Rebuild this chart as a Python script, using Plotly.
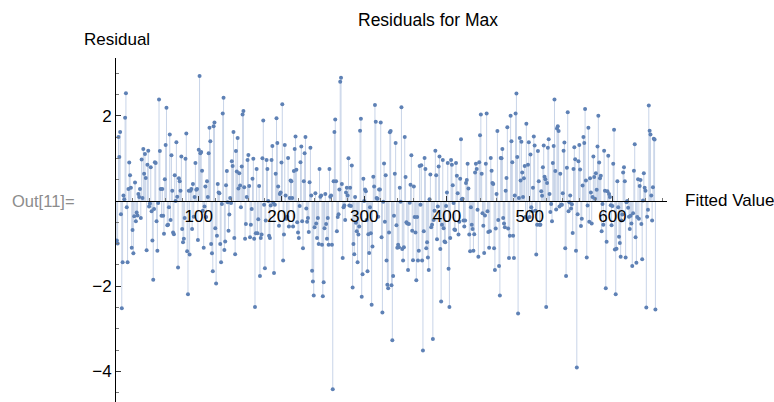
import plotly.graph_objects as go
import numpy as np

# Residual values (left to right)
seg01 = [-0.93, -1.0, 1.5, 1.03, 1.62, -0.31, -2.52, -1.44, 0.13, 0.04, 1.95, 2.53, -0.15, -1.44, 0.28, 0.9,
         0.6, 0.31, -1.1, -0.68, -1.23, -0.36, 0.43, -0.48, -0.27, -0.34, 0.16, 0.09, 0.28, -0.4, 0.97, 0.07,
         1.22, 0.64, 1.1, 0.54, -1.16, 0.85, 1.18, -0.13, -0.06, 0.79, -0.24, -0.93, -1.85, -0.19, 0.91, 0.89,
         -0.48, -1.17, -0.05, 2.38, 1.17, 0.28, -0.35]
seg02 = [0.28, -0.35, -0.77, 0.51, 1.31, 2.19, -0.57, -0.56, -0.15, 1.56, -0.45, 1.07, 0.24, -0.74, -0.78,
         0.6, 0.0, 1.38, 0.1, -1.56, 0.53, 0.46, 0.24, 1.04, -0.66, -0.97, -0.89, -0.4, 0.99, 1.58, -1.18,
         -2.19, 0.24, -1.26, 0.24, 0.28, -0.66, 0.4, -0.37, 0.09, 0.89, 0.26, 0.28, -0.92, 1.2, 2.93, 1.12,
         1.15, 0.71, -0.23, -1.1, -0.13, 0.34, -0.38, 0.46, 0.09, 1.12, 1.72]
seg03 = [1.4, -1.01, -1.23, -1.65, 1.75, 1.84, -0.64, -1.94, -0.82, 0.4, 0.2, 0.18, -1.01, -1.44, -0.07,
         2.05, 2.42, -1.15, -0.95, 0.37, 0.7, -0.03, -0.7, -0.32, 0.07, -0.05, 0.93, 0.82, 1.62, -0.87, -1.25,
         1.17, 0.69, 1.48, 0.29, 0.65, 0.36, -0.15, 0.81, 2.03, 2.11, 0.32, -0.89, -0.54, 0.09, 0.96, 1.08,
         0.35, -0.85, -0.56, -0.19, 0.52, 0.99, -0.89, -2.49, -0.76]
seg04 = [0.75, -0.76, -0.43, 0.35, -1.76, -0.87, -0.79, 1.0, 1.89, -0.09, -1.58, -0.46, 0.96, 0.75, 0.0,
         -0.82, -0.87, -0.11, 0.96, 1.29, -0.04, -1.69, -0.09, 0.64, 1.94, 1.36, 0.34, -0.58, 0.16, 0.2, 0.9,
         2.27, -1.4, -0.79, 1.31, 0.13, -0.42, -0.37, 1.01, -0.6, 0.07, 0.48, 0.46, 0.07, -0.6, 0.7, 1.22,
         1.51, 0.73, -0.5, -0.74, -0.87, -0.12, 0.91, 1.28, -0.48]
seg05 = [-1.11, 0.46, 1.12, 1.5, -0.18, -0.49, -0.4, -0.73, 0.44, 1.25, 0.13, -1.64, -1.89, -2.22, -0.62,
         0.18, -0.53, -0.87, -0.4, -1.01, 0.75, 0.1, 0.13, -1.03, -2.24, -1.91, -0.64, 0.16, -0.54, -0.89,
         -0.4, -1.03, 0.75, 0.1, 0.13, -1.03, -4.42, 0.46, 1.62, 1.91, 0.46, -0.71, -0.38, -0.31, 0.27, 2.8,
         2.89, 0.4, -1.34, -0.15, -0.11, -0.45, 0.2, 0.31, 0.13, 1.0, -0.11]
seg06 = [0.31, -0.12, 0.83, -2.03, -1.01, -1.25, 0.09, -0.51, -0.71, -1.44, -0.79, -0.6, 1.65, 1.93, -2.25,
         -1.72, 0.52, 0.0, 0.27, 0.23, -0.45, -1.65, -0.78, -1.22, -0.15, -0.76, -2.44, -1.07, 0.57, 0.34,
         2.25, 1.86, 0.07, 0.05, -0.37, 0.27, 0.27, 1.84, -0.85, -2.62, -0.02, 0.88, -0.49, 0.6, -1.4, -1.97,
         -2.05, -0.74, 1.61, 1.64, -1.98, -3.27, -1.76, -0.35, 0.64, 1.36, -0.57, -1.1]
seg07 = [-1.03, -1.09, 0.31, -0.02, 2.2, -1.13, -1.4, -1.09, 1.5, 0.56, -0.5, -0.53, -1.62, -0.54, -0.04,
         0.38, 1.07, -0.7, -1.39, 0.34, -0.38, -0.74, -1.86, -0.38, -1.4, -1.17, 0.82, -0.09, 0.84, -1.4,
         -3.51, -0.71, 1.01, 0.75, -1.11, -0.97, -1.33, -1.62, 0.04, 0.62, -0.62, -0.56, -3.24, -0.45, -0.23,
         1.18, 0.6, -0.9, -0.13, 0.81, 1.04, -1.13, -2.36, -0.56, 0.96]
seg08 = [-0.64, -0.95, -0.97, -0.12, 0.2, 0.89, -1.59, -2.49, -0.87, 0.96, 0.85, 0.37, -0.05, -0.67, -0.68,
         0.89, 0.59, 0.18, -0.79, -0.49, 0.52, 1.45, 0.04, 0.05, -0.46, -0.6, -0.46, 0.42, 0.49, 0.87, 0.29,
         -0.79, -1.18, -0.15, -0.56, -0.66, -1.17, -0.78, 0.67, 0.87, 0.75, -0.21, -1.31, 0.91, 1.54, 2.03,
         0.64, -0.29, -0.58, -1.22, -0.34, 0.87, 2.05, -0.24, -0.73, -1.1]
seg09 = [-0.71, 1.01, 0.71, 0.42, 0.4, -1.11, -1.62, -0.65, 0.16, 1.64, -0.45, -1.53, -2.22, 1.01, 1.0, 1.22,
         -0.4, -0.53, -0.62, 0.24, 0.54, 1.73, -0.65, -1.34, -0.82, 2.0, 1.4, 0.91, -0.82, -1.34, 0.13, 2.05,
         2.52, 1.03, -2.64, 0.07, 1.48, 0.48, 1.39, 0.67, 0.09, 0.53, 0.82, -0.38, 1.81, -0.42, 0.85, 1.38,
         -0.38, 1.09, -0.15, -0.24, 0.31, 1.51, 1.3, -0.23]
seg10 = [-1.26, -0.56, 1.17, 0.46, -0.56, -0.56, 0.23, 0.12, 0.79, 1.3, 0.57, 0.51, -2.49, 0.42, 1.25, 1.45,
         0.16, -0.26, -0.07, -0.48, 0.89, 1.29, 2.38, 0.7, -0.2, 1.7, 1.75, 1.64, -0.13, 0.64, -0.09, -0.09,
         0.18, 1.18, 1.37, -1.11, -1.76, 0.78, 2.08, -0.24, -0.03, 0.13, -0.18, -0.08, -0.75, 0.75, 1.26,
         0.98, -1.17, -3.91, -0.31, 0.93, 1.31, 0.74, -0.59, -0.42, 0.36]
seg11 = [1.5, 1.36, 2.16, 0.48, -1.33, -0.11, 1.72, -0.49, 0.53, 0.2, -0.53, 0.09, 1.04, 0.56, 0.05, 0.65,
         0.26, 1.28, 2.0, 0.9, 0.53, 0.59, -0.71, -0.07, -0.56, 1.18, 0.24, -2.05, -0.96, 0.23, 1.06, 0.16,
         0.09, -0.1, -0.57, -0.12, 0.87, 1.67, -1.14, -2.19, -1.12, 0.46, -0.15, -0.84, -0.99, -1.31, -0.46,
         -0.32, 0.67, 0.79, 0.46, -1.33, -0.03, 0.0, -0.16, -0.37, -0.66]
seg12 = [-0.35, -0.53, -1.53, -0.29, 0.71, 1.33, -0.85, -1.45, -0.38, 0.51, -0.42, 0.35, 0.49, -0.54, -1.37,
         0.01, 0.65, 0.31, 0.24, -2.5, -0.37, -0.21, 2.24, 1.65, 1.56, 0.13, -0.46, 0.32, 1.46, 1.44, -2.55]

residuals = (seg01 + seg02 + seg03 + seg04 + seg05 + seg06 + seg07 + seg08 + seg09 + seg10 + seg11 + seg12)
index = list(range(1, len(residuals) + 1))

x_major = [100, 200, 300, 400, 500, 600]
y_major = [-4, -2, 2]

# stems from axis to each point
sx, sy = [], []
for xi, yi in zip(index, residuals):
    sx += [xi, xi, None]
    sy += [0, yi, None]

fig = go.Figure()
fig.add_trace(go.Scatter(x=sx, y=sy, mode="lines",
                         line=dict(color="rgb(200,212,232)", width=1),
                         hoverinfo="skip", showlegend=False))
fig.add_trace(go.Scatter(x=index, y=residuals, mode="markers",
                         marker=dict(color="#5E81B5", size=4),
                         showlegend=False))

W, H = 774, 402
ml, mr, mt, mb = 116, 107, 58, 0
pw, ph = W - ml - mr, H - mt - mb
ymin, ymax = -4.72, 3.355
pos0 = (0 - ymin) / (ymax - ymin)

def px(xp):
    return (xp - ml) / pw

def py(yp):
    return (H - mb - yp) / ph

fig.update_layout(
    width=W, height=H,
    margin=dict(l=ml, r=mr, t=mt, b=mb, autoexpand=False),
    paper_bgcolor="white", plot_bgcolor="white",
    font=dict(family="Liberation Sans, Arial, sans-serif", size=17, color="black"),
    xaxis=dict(range=[0, 666], anchor="free", position=pos0,
               showline=True, linecolor="black", linewidth=1,
               ticks="inside", ticklen=5, tickwidth=1, tickcolor="#333",
               tickmode="array", tickvals=x_major,
               showgrid=False, zeroline=False,
               minor=dict(tickmode="array",
                          tickvals=[v for v in range(20, 666, 20) if v % 100 != 0],
                          ticks="inside", ticklen=3, tickcolor="#777", showgrid=False),
               tickfont=dict(size=17), automargin=False),
    yaxis=dict(range=[ymin, ymax],
               showline=True, linecolor="black", linewidth=1,
               ticks="inside", ticklen=5, tickwidth=1, tickcolor="#333",
               tickmode="array", tickvals=y_major,
               showgrid=False, zeroline=False,
               minor=dict(tickmode="array",
                          tickvals=[float(v) for v in np.arange(-4.5, 3.01, 0.5) if v % 2 != 0],
                          ticks="inside", ticklen=3, tickcolor="#777", showgrid=False),
               tickfont=dict(size=17), automargin=False),
    annotations=[
        dict(text="Residuals for Max", x=px(428), y=py(20), xref="paper", yref="paper",
             xanchor="center", yanchor="middle", showarrow=False, font=dict(size=17.5)),
        dict(text="Residual", x=px(117), y=py(40), xref="paper", yref="paper",
             xanchor="center", yanchor="middle", showarrow=False, font=dict(size=17)),
        dict(text="Fitted Value", x=px(683), y=pos0, xref="paper", yref="paper",
             xanchor="left", yanchor="middle", showarrow=False, font=dict(size=17)),
        dict(text="Out[11]=", x=px(10), y=pos0, xref="paper", yref="paper",
             xanchor="left", yanchor="middle", showarrow=False,
             font=dict(size=16.5, color="#8c8c8c")),
    ],
)

fig.write_html("out.html")
